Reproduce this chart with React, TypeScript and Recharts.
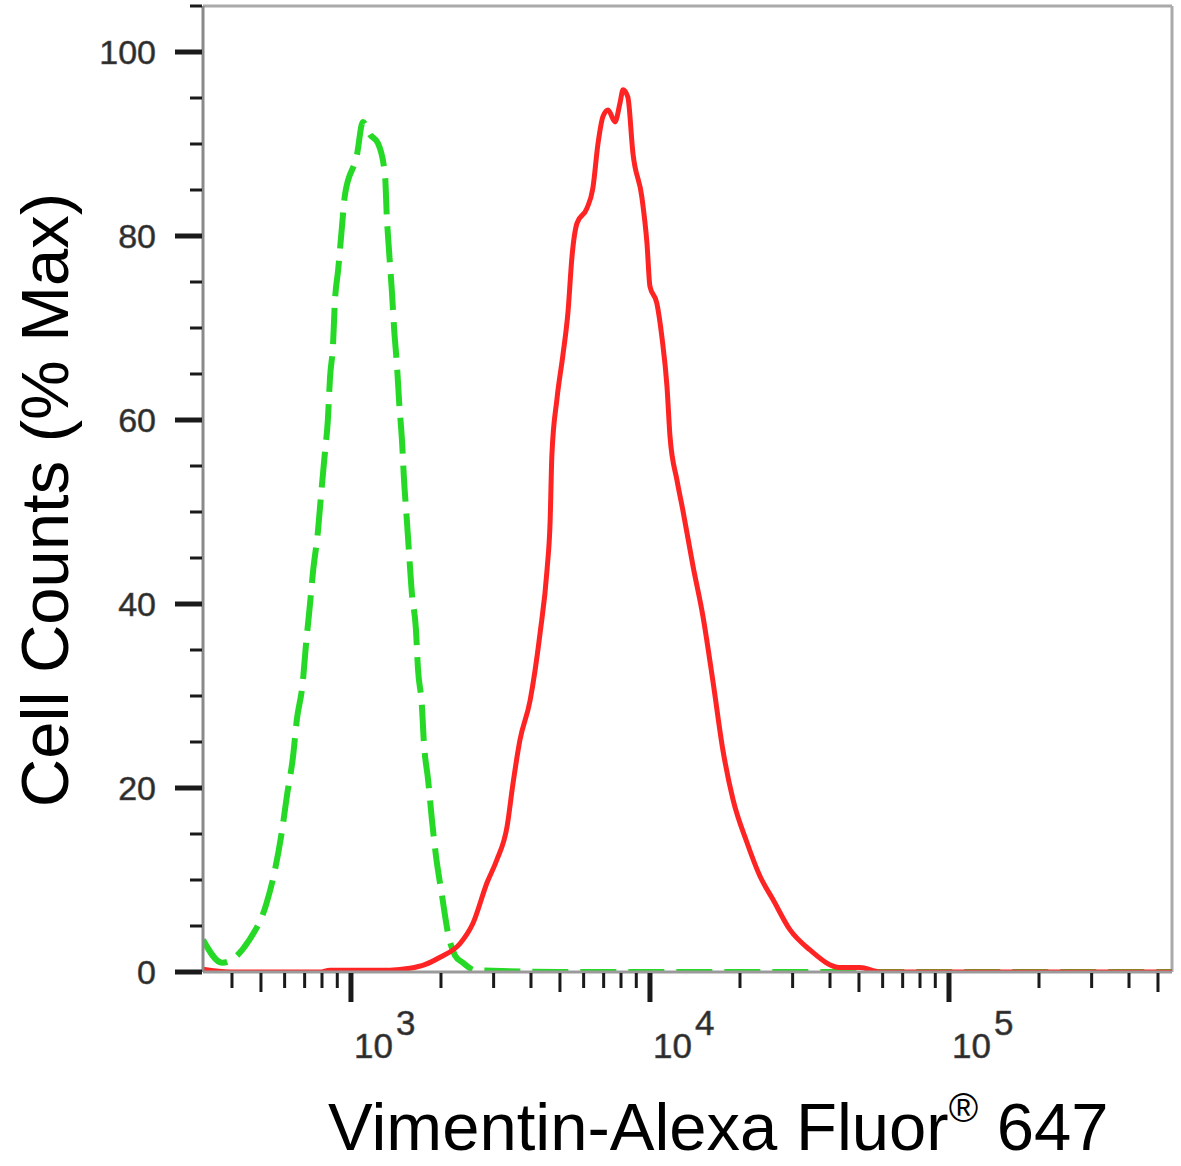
import React from 'react';
import { LineChart, Line, XAxis, YAxis, ReferenceLine } from 'recharts';

// isotype control (green dashed)
const controlIntensity = [
  320, 371, 453, 520, 557, 587, 611, 640, 659, 690, 706, 729, 746, 776, 794, 818, 837, 851, 871, 883,
  906, 933, 955, 1047, 1096, 1159, 1230, 1300, 1318, 1340, 1371, 1393, 1426, 1449, 1483, 1503, 1538,
  1563, 1600, 1648, 1675, 1726, 1754, 1811, 1866, 1923, 2014, 2109, 2228, 2371, 2600, 5000, 20000,
  100000, 557000,
];
const controlCounts = [
  3.5, 1.0, 3.3, 7.3, 11.1, 15.2, 19.2, 23.4, 27.4, 31.5, 35.3, 39.9, 43.4, 48.0, 51.8, 56.4, 60.0,
  64.6, 68.2, 72.7, 76.3, 81.0, 84.5, 88.8, 92.4, 91.0, 90.1, 86.6, 82.1, 78.5, 73.9, 70.1, 65.8, 62.0,
  57.5, 53.8, 49.1, 45.7, 41.0, 37.4, 33.0, 29.0, 24.9, 20.9, 16.5, 12.7, 8.4, 4.3, 1.8, 1.0, 0.2, 0, 0,
  0, 0,
];

// Vimentin-Alexa Fluor 647 (red)
const vimentinIntensity = [
  320, 394, 787, 851, 1349, 1574, 1766, 1986, 2317, 2559, 2851, 3076, 3327, 3483, 3673, 3972, 4285,
  4529, 4634, 4699, 4887, 5117, 5321, 5483, 5702, 6152, 6442, 6699, 6966, 7244, 7638, 7943, 8128, 8433,
  8770, 9397, 9772, 10000, 10544, 10965, 11402, 11668, 12303, 12882, 13932, 15031, 16255, 17539, 18967,
  21086, 23335, 25763, 29376, 34277, 43152, 50350, 58749, 557000,
];
const vimentinCounts = [
  0.3, 0, 0, 0.2, 0.2, 0.4, 0.8, 1.6, 3.1, 5.3, 9.7, 12.2, 15.8, 20.5, 25.2, 29.5, 36.7, 43.8, 48.9,
  56.2, 62.3, 67.1, 71.8, 77.7, 81.4, 83.0, 85.2, 90.0, 93.0, 93.7, 92.4, 94.5, 95.9, 95.1, 89.0, 84.2,
  79.2, 74.5, 72.7, 69.0, 63.6, 58.2, 53.5, 50.2, 44.1, 38.7, 31.5, 24.1, 18.7, 14.1, 10.4, 7.9, 4.6,
  2.4, 0.5, 0.5, 0, 0,
];

const xTicks = [
  400, 500, 600, 700, 800, 900, 1000, 2000, 3000, 4000, 5000, 6000, 7000, 8000, 9000, 10000, 20000,
  30000, 40000, 50000, 60000, 70000, 80000, 90000, 100000, 200000, 300000, 400000, 500000,
];
const yTicks = [0, 5, 10, 15, 20, 25, 30, 35, 40, 45, 50, 55, 60, 65, 70, 75, 80, 85, 90, 95, 100, 105];
const yLabels = [0, 20, 40, 60, 80, 100];

const control = controlIntensity.map((x, i) => ({ x, y: controlCounts[i] }));
const vimentin = vimentinIntensity.map((x, i) => ({ x, y: vimentinCounts[i] }));

const font = '"Liberation Sans", Arial, Helvetica, sans-serif';

const XTick = (props: any) => {
  const { x, y, payload } = props;
  const v = payload.value;
  const lg = Math.log10(v);
  const exp = Math.round(lg);
  const major = Math.abs(lg - exp) < 1e-6;
  const lead = Math.round(v / Math.pow(10, Math.floor(lg + 1e-9)));
  const len = major ? 30 : lead === 5 ? 20 : 16;
  return (
    <g>
      <line x1={x} x2={x} y1={y + 1} y2={y + len} stroke="#1a1a1a" strokeWidth={major ? 5 : 3} />
      {major && (
        <text x={x + 3} y={y + 86} fontSize={35} fill="#2a2a2a" stroke="#555" strokeWidth={0.6} fontFamily={font}>
          10
          <tspan fontSize={35} dx={3} dy={-23}>{exp}</tspan>
        </text>
      )}
    </g>
  );
};

const YTick = (props: any) => {
  const { x, y, payload } = props;
  const v = payload.value;
  const major = yLabels.includes(v);
  return (
    <g>
      <line x1={x - (major ? 28 : 13)} x2={x - 1} y1={y} y2={y} stroke="#1a1a1a" strokeWidth={major ? 5 : 3} />
      {major && (
        <text x={x - 47} y={y + 12} textAnchor="end" fontSize={34} fill="#2a2a2a" stroke="#555" strokeWidth={0.6} fontFamily={font}>
          {v}
        </text>
      )}
    </g>
  );
};

const YTitle = () => (
  <text
    x={68}
    y={500}
    transform="rotate(-90, 68, 500)"
    textAnchor="middle"
    fontSize={67}
    fill="#000"
    fontFamily={font}
  >
    Cell Counts (% Max)
  </text>
);

const XTitle = () => (
  <text x={328} y={1150} fontSize={67} fill="#000" fontFamily={font}>
    Vimentin-Alexa Fluor
    <tspan fontSize={40} dy={-28}>®</tspan>
    <tspan dy={28}> 647</tspan>
  </text>
);

export default function App() {
  return (
    <div style={{ position: 'absolute', left: 0, top: 0, width: 1181, height: 1166, background: '#fff' }}>
      <LineChart width={1181} height={1166} margin={{ top: 6, right: 9, bottom: 0, left: 0 }}>
        <XAxis
          dataKey="x"
          type="number"
          scale="log"
          domain={[320, 557000]}
          allowDataOverflow
          ticks={xTicks}
          interval={0}
          tick={<XTick />}
          tickSize={0}
          tickMargin={0}
          tickLine={false}
          height={194}
          axisLine={{ stroke: '#9a9a9a', strokeWidth: 3 }}
          label={{ content: () => <XTitle /> }}
        />
        <YAxis
          type="number"
          domain={[0, 105]}
          allowDataOverflow
          ticks={yTicks}
          interval={0}
          tick={<YTick />}
          tickSize={0}
          tickMargin={0}
          tickLine={false}
          width={203}
          axisLine={{ stroke: '#8a8a8a', strokeWidth: 3 }}
          label={{ content: () => <YTitle /> }}
        />
        <ReferenceLine y={105} stroke="#aaaaaa" strokeWidth={3} />
        <ReferenceLine x={557000} stroke="#aaaaaa" strokeWidth={3} />
        <Line
          data={control}
          dataKey="y"
          type="monotone"
          stroke="#26d926"
          strokeWidth={6}
          strokeDasharray="36 12"
          dot={false}
          isAnimationActive={false}
        />
        <Line
          data={vimentin}
          dataKey="y"
          type="monotone"
          stroke="#ff2424"
          strokeWidth={5}
          dot={false}
          isAnimationActive={false}
        />
      </LineChart>
    </div>
  );
}
